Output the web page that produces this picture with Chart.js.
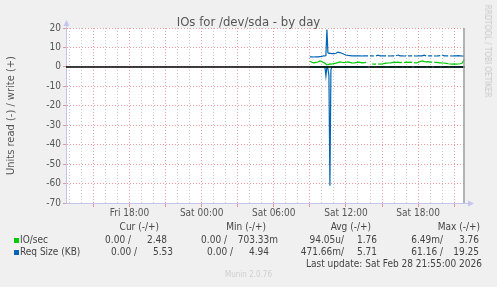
<!DOCTYPE html>
<html><head><meta charset="utf-8">
<script src="https://cdn.jsdelivr.net/npm/chart.js@4.4.1/dist/chart.umd.min.js"></script>
<style>
html,body{margin:0;padding:0;background:#f0f0f0;}
#wrap{position:relative;width:497px;height:287px;overflow:hidden;background:#f0f0f0;font-family:"DejaVu Sans Condensed","DejaVu Sans",sans-serif;}
#c{position:absolute;left:0;top:0;}
.t{position:absolute;white-space:pre;font-size:10px;line-height:12px;color:#444;}
.sw{position:absolute;width:5px;height:5px;}
</style></head><body>
<div id="wrap"><canvas id="c" width="497" height="287"></canvas></div>
<script>
// ---- data ----
const graphTitle = 'IOs for /dev/sda - by day';
const yAxisTitle = 'Units read (-) / write (+)';
const times = ["09:00","09:10","09:20","09:30","09:40","09:50","10:00","10:05","10:10","10:15","10:20","10:25","10:30","10:35","10:40","10:45","10:50","11:00","11:10","11:20","11:30","11:40","11:50","12:00","12:10","12:20","12:30","12:40","12:50","13:00","13:10","13:20","13:30","13:40","13:50","14:00","14:10","14:20","14:30","14:40","14:50","15:00","15:10","15:20","15:30","15:40","15:50","16:00","16:10","16:20","16:30","16:40","16:50","17:00","17:10","17:20","17:30","17:40","17:50","18:00","18:10","18:20","18:30","18:40","18:50","19:00","19:10","19:20","19:30","19:40","19:50","20:00","20:10","20:20","20:30","20:40","20:50","21:00","21:10","21:20","21:30","21:40","21:50"];
const ioWrite = [2.9,2.4,2.1,2.3,2.5,3.1,2.8, 2.4,2.2,1.9,1.5,1.2,1.1,1.3,1.5,1.4,1.5, 1.7,1.9,2.2,2.6,2.4,2.2, 2.4,2.6,2.3,2.1,2.0,2.2, 2.4,2.3,2.1,2.2,2.3,null, null,1.5,1.4,1.4,1.5,1.4, 1.5,1.7,1.9,2.0,2.0,2.2, 2.4,2.3,2.4,2.2,2.3,2.2, 2.4,2.3,2.4,2.3,2.2,2.0, 2.3,2.8,3.1,2.7,2.6,2.7, 2.5,2.5,2.4,2.3,2.2,2.1, 2.0,2.0,1.8,1.6,1.5,1.4, 1.5,1.4,1.5,1.6,2.0,3.76];
const ioRead = [0,0,0,0,0,0,0, 0,0,0.002,0.004,0,0.003,0.005,0.0065,0.002,0, 0,0,0,0,0,0, 0,0,0,0,0,0, 0,0,0,0,0,null, null,0,0,0,0,0, 0,0,0,0,0,0, 0,0,0,0,0,0, 0,0,0,0,0,0, 0,0,0,0,0,0, 0,0,0,0,0,0, 0,0,0,0,0,0, 0,0,0,0,0,0];
const reqWrite = [5.2,5.2,5.1,5.2,5.2,5.3,5.4, 5.6,5.7,5.6,5.8,19.25,7.3,7.0,7.1,6.9,6.8, 6.8,7.0,7.6,7.3,7.0,6.5, 6.1,5.9,5.8,5.7,5.7,5.7, 5.7,5.7,5.6,5.7,5.7,5.7, 5.7,5.7,5.6,5.7,6.0,5.7, 5.7,5.7,5.7,5.7,5.6,5.7, 5.7,5.7,6.1,5.7,5.7,5.6, 5.7,5.7,5.7,5.7,5.7,5.6, 5.7,5.7,5.7,6.0,5.7,5.7, 5.7,5.7,5.7,5.6,5.7,5.8, 6.1,5.7,5.7,5.7,5.7,5.6, 5.7,5.7,5.8,5.7,5.6,5.53];
const reqRead = [0,0,0,0,0,0,0, 0,0,0,4.7,0,0.8,4.5,61.16,1.5,0, 0,0,0,0,0,0, 0,0,0,0,0,0, 0,0,0,0,0,0, 0,0,0,0,0,0, 0,0,0,0,0,0, 0,0,0,0,0,0, 0,0,0,0,0,0, 0,0,0,0,0,0, 0,0,0,0,0,0, 0,0,0,0,0,0, 0,0,0,0,0,0];
// 5-minute samples with no data (unknown), per series
const reqGapTimes = ["13:55","14:25","15:25","16:05","17:05","17:35","18:45","19:15","19:55","20:35"];
const ioGapTimes = ["14:35","16:45","17:35","19:15"];
const xStartHour = 12.72, xEndHour = 45.9;   // hours since Fri 00:00
const tickHours = [18, 24, 30, 36, 42];
const tickLabels = ['Fri 18:00', 'Sat 00:00', 'Sat 06:00', 'Sat 12:00', 'Sat 18:00'];
const yMin = -70, yMax = 20;
const seriesNames = ['IO/sec', 'Req Size (KB)'];
const statHeaders = ['Cur (-/+)', 'Min (-/+)', 'Avg (-/+)', 'Max (-/+)'];
const ioStats = [['0.00 /','2.48'],['0.00 /','703.33m'],['94.05u/','1.76'],['6.49m/','3.76']];
const reqStats = [['0.00 /','5.53'],['0.00 /','4.94'],['471.66m/','5.71'],['61.16 /','19.25']];
const lastUpdate = 'Last update: Sat Feb 28 21:55:00 2026';
const footer = 'Munin 2.0.76';
const watermark = 'RRDTOOL / TOBI OETIKER';

// ---- layout / style ----
const GREEN = '#00CC00', BLUE = '#0066B3';
const MAJ = 'rgba(225,90,90,0.6)', MIN = 'rgba(160,160,160,0.55)', AXIS = '#c4c4ee';
const FONT = '"DejaVu Sans Condensed","DejaVu Sans",sans-serif';

const toHour = s => 24 + parseInt(s.slice(0,2)) + parseInt(s.slice(3,5)) / 60;
const pts = (arr, sign, gaps) => times.map((t, i) => ({x: toHour(t), y: arr[i] === null ? null : sign * arr[i]}))
  .concat((gaps || []).map(t => ({x: toHour(t), y: null})))
  .sort((a, b) => a.x - b.x);

const wrap = document.getElementById('wrap');
function addText(txt, css, cls) {
  const d = document.createElement('div');
  d.className = cls || 't';
  d.textContent = txt;
  Object.assign(d.style, css);
  wrap.appendChild(d);
  return d;
}
addText(graphTitle, {left:'0px', width:'497px', textAlign:'center', top:'14px', fontSize:'13px', lineHeight:'15px', color:'#555'});
addText(watermark, {left:'487px', top:'51px', fontSize:'8px', lineHeight:'10px', color:'#c8c8c8', transform:'translate(-50%,-50%) rotate(90deg)'});
const hdrRight = [159, 266, 371, 480];
const ioRight = [[131,167],[227,278],[344,377],[443,479]];
const reqRight = [[137,173],[233,269],[344,377],[443,479]];
statHeaders.forEach((h, i) => addText(h, {right:(497-hdrRight[i])+'px', top:'221px'}));
const rowsTop = [233.5, 246];
[ioStats, reqStats].forEach((stats, r) => {
  const rights = r === 0 ? ioRight : reqRight;
  const sw = document.createElement('div'); sw.className = 'sw';
  Object.assign(sw.style, {left:'14px', top:(r === 0 ? 238 : 250)+'px', background: r === 0 ? GREEN : BLUE});
  wrap.appendChild(sw);
  addText(seriesNames[r], {left:'20px', top: rowsTop[r]+'px'});
  stats.forEach((pair, i) => {
    addText(pair[0], {right:(497-rights[i][0])+'px', top: rowsTop[r]+'px'});
    addText(pair[1], {right:(497-rights[i][1])+'px', top: rowsTop[r]+'px'});
  });
});
addText(lastUpdate, {right:(497-482)+'px', top:'257.5px'});
addText(footer, {left:'0px', width:'497px', textAlign:'center', top:'270px', fontSize:'8px', lineHeight:'10px', color:'#cfcfcf'});

const decor = {
  id: 'decor',
  beforeDraw(chart) {
    const {ctx, chartArea: a} = chart;
    ctx.save(); ctx.fillStyle = '#fff';
    ctx.fillRect(a.left, a.top, a.right - a.left, a.bottom - a.top);
    ctx.restore();
  },
  afterDatasetsDraw(chart) {
    const {ctx, chartArea: a, scales: {x, y}} = chart;
    ctx.save();
    const y0 = y.getPixelForValue(0);
    ctx.strokeStyle = '#000'; ctx.lineWidth = 1.5;
    ctx.beginPath(); ctx.moveTo(a.left, y0); ctx.lineTo(a.right, y0); ctx.stroke();
    const xr = x.getPixelForValue(xEndHour) - 1;
    ctx.strokeStyle = '#9a9a9a'; ctx.lineWidth = 1.5;
    ctx.beginPath(); ctx.moveTo(xr, a.top); ctx.lineTo(xr, a.bottom); ctx.stroke();
    ctx.restore();
  },
  afterDraw(chart) {
    const {ctx, chartArea: a} = chart;
    ctx.save();
    ctx.strokeStyle = AXIS; ctx.fillStyle = AXIS; ctx.lineWidth = 1;
    ctx.beginPath(); ctx.moveTo(a.left + 0.5, a.top); ctx.lineTo(a.left + 0.5, a.top - 2); ctx.stroke();
    ctx.beginPath(); ctx.moveTo(a.right, a.bottom + 0.5); ctx.lineTo(a.right + 3, a.bottom + 0.5); ctx.stroke();
    ctx.beginPath(); ctx.moveTo(a.left + 0.5, a.top - 8); ctx.lineTo(a.left - 2.5, a.top - 2); ctx.lineTo(a.left + 3.5, a.top - 2); ctx.closePath(); ctx.fill();
    ctx.beginPath(); ctx.moveTo(a.right + 9, a.bottom + 0.5); ctx.lineTo(a.right + 3, a.bottom - 2.5); ctx.lineTo(a.right + 3, a.bottom + 3.5); ctx.closePath(); ctx.fill();
    ctx.restore();
  }
};

const lineDs = (label, data, color) => ({label, data, borderColor: color, backgroundColor: color, borderWidth: 1.2, pointRadius: 0, tension: 0, spanGaps: false, fill: false});

new Chart(document.getElementById('c'), {
  type: 'line',
  data: {datasets: [
    lineDs('Req Size write', pts(reqWrite, 1, reqGapTimes), BLUE),
    lineDs('Req Size read', pts(reqRead, -1, reqGapTimes), BLUE),
    lineDs('IO/sec write', pts(ioWrite, 1, ioGapTimes), GREEN),
    lineDs('IO/sec read', pts(ioRead, -1, ioGapTimes), GREEN)
  ]},
  options: {
    responsive: false, animation: false, devicePixelRatio: 1,
    layout: {padding: {left: 0, top: 28, right: 32, bottom: 0}},
    plugins: {legend: {display: false}, tooltip: {enabled: false}, title: {display: false}},
    scales: {
      x: {
        type: 'linear', min: xStartHour, max: xEndHour,
        afterBuildTicks: s => { const t = []; for (let h = Math.ceil(xStartHour); h <= Math.floor(xEndHour); h++) t.push({value: h}); s.ticks = t; },
        afterFit: s => { s.height = 84; },
        ticks: {autoSkip: false, maxRotation: 0, padding: 0, color: '#555', font: {family: FONT, size: 10},
          callback: v => { const i = tickHours.indexOf(v); return i >= 0 ? tickLabels[i] : ''; }},
        grid: {color: c => (c.tick && c.tick.value % 3 === 0) ? MAJ : MIN, tickColor: c => (c.tick && c.tick.value % 3 === 0) ? MAJ : 'rgba(0,0,0,0)', tickLength: 4, lineWidth: 1},
        border: {display: true, color: AXIS, width: 1, dash: [1, 2]}
      },
      y: {
        min: yMin, max: yMax,
        afterBuildTicks: s => { const t = []; for (let v = yMin; v <= yMax; v += 5) t.push({value: v}); s.ticks = t; },
        afterFit: s => { s.width = 66; },
        ticks: {padding: 2, color: '#555', font: {family: FONT, size: 10}, callback: v => (v % 10 === 0 ? String(v) : '')},
        grid: {color: c => (c.tick && c.tick.value % 10 === 0) ? MAJ : MIN, tickColor: c => (c.tick && c.tick.value % 10 === 0) ? MAJ : MIN, tickLength: 3, lineWidth: 1},
        border: {display: true, color: AXIS, width: 1, dash: [1, 2]},
        title: {display: true, text: yAxisTitle, color: '#555', font: {family: FONT, size: 11}, padding: {top: 5, bottom: 0}}
      }
    }
  },
  plugins: [decor]
});
</script>
</body></html>
